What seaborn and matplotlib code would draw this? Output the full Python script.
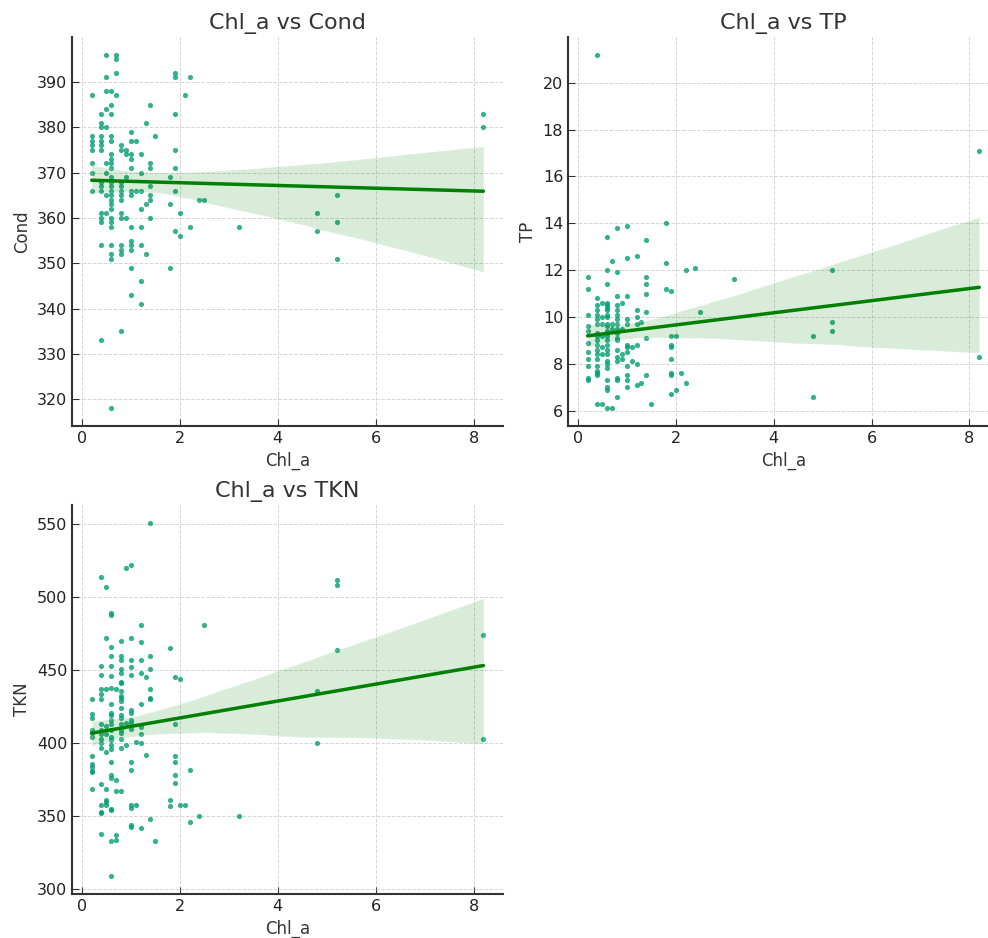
import matplotlib
matplotlib.use("Agg")
import pandas as pd
import seaborn as sns
from matplotlib import pyplot as plt

# values, grouped by Chl_a value
COND = {
    0.2: [387, 378, 377, 376, 375, 372, 370, 366],
    0.4: [383, 381, 380, 378, 377, 376, 375, 368, 367, 366, 361, 360, 359, 354, 333],
    0.5: [396, 391, 388, 384, 380, 372, 370, 365, 361],
    0.6: [388, 385, 383, 378, 377, 374, 373, 372, 371, 369, 368, 367, 366, 365,
          364, 363, 362, 360, 359, 358, 354, 352, 351, 318],
    0.7: [396, 395, 392, 387],
    0.8: [376, 375, 368, 367, 366, 365, 364, 361, 360, 354, 353, 352, 335],
    0.9: [375, 374, 369, 360],
    1.0: [379, 377, 374, 373, 371, 366, 365, 358, 355, 354, 353, 349, 343],
    1.1: [377, 366],
    1.2: [374, 370, 366, 362, 358, 354, 346, 341],
    1.3: [381, 363, 352],
    1.4: [385, 372, 371, 367, 365, 364, 360],
    1.5: [378],
    1.8: [369, 363, 349],
    1.9: [392, 391, 383, 375, 371, 366, 357],
    2.0: [361, 356],
    2.1: [387],
    2.2: [391, 358],
    2.4: [364],
    2.5: [364],
    3.2: [358],
    4.8: [361, 357],
    5.2: [365, 359, 351],
    8.2: [383, 380],
}

TP = {
    0.2: [11.7, 11.2, 10.1, 9.6, 9.4, 8.9, 8.5, 8.2, 7.9, 7.4, 7.3],
    0.4: [21.2, 10.8, 10.5, 10.3, 10.1, 9.9, 9.7, 9.3, 9.2, 9.0, 8.8, 8.6, 8.4,
          8.2, 7.9, 7.7, 7.6, 7.5, 6.3],
    0.5: [10.6, 10.0, 9.7, 9.2, 8.7, 8.4, 6.3],
    0.6: [13.4, 12.0, 11.4, 10.6, 10.5, 10.4, 10.3, 10.1, 10.0, 9.7, 9.6, 9.4,
          9.3, 9.2, 9.0, 8.8, 8.6, 8.4, 8.1, 8.0, 7.8, 7.3, 7.0, 6.9, 6.1],
    0.7: [12.4, 9.7, 9.5, 6.1],
    0.8: [13.8, 11.9, 10.9, 10.5, 10.3, 10.1, 9.9, 9.7, 9.5, 9.3, 9.1, 9.0, 8.6,
          8.3, 8.1, 7.4, 7.3, 6.6],
    0.9: [10.6, 9.5, 8.4, 8.2],
    1.0: [13.9, 12.5, 10.9, 9.9, 9.7, 8.8, 8.7, 8.5, 7.9, 7.5, 7.3, 7.0],
    1.1: [8.7, 8.1],
    1.2: [12.6, 10.3, 10.0, 9.7, 8.8, 8.0, 7.1],
    1.3: [9.8, 7.2],
    1.4: [13.3, 11.7, 11.4, 11.0, 10.2, 9.1, 7.5],
    1.5: [6.3],
    1.8: [14.0, 12.3, 11.2],
    1.9: [11.1, 9.2, 8.8, 8.7, 8.2, 7.6, 7.5, 6.7],
    2.0: [9.2, 6.9],
    2.1: [7.6],
    2.2: [12.0, 7.2],
    2.4: [12.1],
    2.5: [10.2],
    3.2: [11.6],
    4.8: [9.2, 6.6],
    5.2: [12.0, 9.8, 9.4],
    8.2: [17.1, 8.3],
}

TKN = {
    0.2: [430, 420, 417, 409, 407, 404, 391, 386, 384, 381, 380, 369],
    0.4: [514, 453, 447, 437, 434, 430, 413, 409, 406, 403, 400, 397, 372, 358,
          353, 352, 338],
    0.5: [507, 472, 437, 412, 406, 394, 369, 361, 360, 358],
    0.6: [489, 488, 466, 460, 453, 446, 438, 427, 421, 419, 416, 413, 409, 404,
          402, 399, 396, 387, 378, 376, 355, 354, 333, 309],
    0.7: [437, 375, 367, 337, 334],
    0.8: [470, 460, 457, 451, 448, 442, 441, 436, 432, 431, 429, 424, 419, 417,
          413, 409, 407, 403, 397, 367],
    0.9: [520, 414, 399],
    1.0: [522, 472, 457, 452, 447, 423, 421, 416, 414, 410, 387, 382, 358, 356,
          344, 343],
    1.1: [401, 358],
    1.2: [481, 469, 457, 448, 427, 411, 406, 400, 342],
    1.3: [445, 392],
    1.4: [551, 460, 451, 437, 431, 430, 348],
    1.5: [333],
    1.8: [465, 361, 357],
    1.9: [445, 413, 391, 387, 378, 373],
    2.0: [444, 358],
    2.1: [358],
    2.2: [382, 346],
    2.4: [350],
    2.5: [481],
    3.2: [350],
    4.8: [436, 400],
    5.2: [512, 508, 464],
    8.2: [474, 403],
}

TARGETS = [('Cond', COND), ('TP', TP), ('TKN', TKN)]

POINT_COLOR = '#029e73'
LINE_COLOR = 'green'
TEXT_COLOR = '#333333'


def to_frame(by_chl, name):
    rows = [(chl, v) for chl, vals in by_chl.items() for v in vals]
    return pd.DataFrame(rows, columns=['Chl_a', name])


sns.set_style('whitegrid')
plt.rcParams.update({
    'font.family': ['DejaVu Sans'],
    'axes.edgecolor': TEXT_COLOR,
    'axes.linewidth': 1.5,
    'axes.labelcolor': TEXT_COLOR,
    'axes.titlecolor': TEXT_COLOR,
    'xtick.color': TEXT_COLOR,
    'ytick.color': TEXT_COLOR,
    'xtick.labelcolor': '#222222',
    'ytick.labelcolor': '#222222',
    'xtick.direction': 'in',
    'ytick.direction': 'in',
    'xtick.major.size': 5,
    'ytick.major.size': 5,
    'xtick.bottom': True,
    'ytick.left': True,
    'grid.color': '#d6d6d6',
    'grid.linestyle': '--',
    'grid.linewidth': 0.7,
})

fig, axs = plt.subplots(2, 2, figsize=(9.88, 9.38), dpi=100)
fig.subplots_adjust(left=0.073, right=1.011, bottom=0.047, top=0.9606,
                    wspace=0.151, hspace=0.203)
axs = axs.flatten()

for ax, (name, by_chl) in zip(axs, TARGETS):
    df = to_frame(by_chl, name)
    sns.regplot(
        data=df, x='Chl_a', y=name, ax=ax, seed=0,
        scatter_kws=dict(s=14, color=POINT_COLOR, alpha=0.8, linewidths=0),
        line_kws=dict(color=LINE_COLOR, lw=2.5),
    )
    ax.set_title(f'Chl_a vs {name}', fontsize=16)
    ax.set_xlabel('Chl_a', fontsize=12)
    ax.set_ylabel(name, fontsize=12)
    ax.tick_params(labelsize=11.5)
    ax.set_xticks([0, 2, 4, 6, 8])
    sns.despine(ax=ax)

axs[3].axis('off')

fig.savefig('out.png', dpi=100)
